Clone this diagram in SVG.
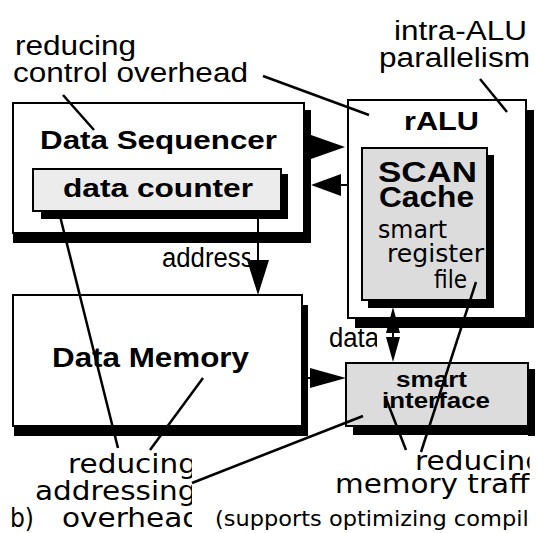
<svg xmlns="http://www.w3.org/2000/svg" width="544" height="533" viewBox="0 0 544 533">
  <style>
    .box { fill: #ffffff; stroke: #000000; stroke-width: 2; }
    .lite { fill: #ececec; stroke: #000000; stroke-width: 2; }
    .gray { fill: #dcdcdc; stroke: #000000; stroke-width: 2; }
    .sh { fill: #000000; }
    .lead { stroke: #000000; stroke-width: 2.5; fill: none; }
    .wire { stroke: #000000; stroke-width: 2; fill: none; }
    .head { fill: #000000; stroke: none; }
    .hb { font-family: "Liberation Sans", Arial, Helvetica, sans-serif; font-weight: bold; fill: #000; }
    .hr { font-family: "Liberation Sans", Arial, Helvetica, sans-serif; font-size: 27px; fill: #000; }
    .gv { font-family: "DejaVu Sans", Verdana, sans-serif; fill: #000; }
  </style>
  <defs>
    <clipPath id="clipLeftNote"><rect x="0" y="430" width="192" height="103"/></clipPath>
    <clipPath id="clipRightNote"><rect x="200" y="440" width="329.5" height="93"/></clipPath>
    <clipPath id="clipAddr"><rect x="150" y="240" width="100" height="35"/></clipPath>
    <clipPath id="clipData"><rect x="320" y="320" width="57" height="35"/></clipPath>
  </defs>

  <rect x="0" y="0" width="544" height="533" fill="#ffffff"/>

  <!-- Data Sequencer with embedded data counter -->
  <g id="data-sequencer">
    <rect class="sh" x="304" y="110" width="7" height="133"/>
    <rect class="sh" x="13" y="233" width="298" height="10"/>
    <rect class="box" x="13" y="103" width="291" height="130"/>
    <text class="hb" x="40" y="149" font-size="26" textLength="237" lengthAdjust="spacingAndGlyphs">Data Sequencer</text>
  </g>
  <g id="data-counter">
    <rect class="sh" x="281" y="174" width="7" height="45"/>
    <rect class="sh" x="41" y="211" width="247" height="8"/>
    <rect class="lite" x="33" y="169" width="248" height="42"/>
    <text class="hb" x="63" y="197" font-size="26" textLength="190" lengthAdjust="spacingAndGlyphs">data counter</text>
  </g>

  <!-- rALU with SCAN Cache -->
  <g id="ralu">
    <rect class="sh" x="526" y="110" width="8" height="218"/>
    <rect class="sh" x="355" y="318" width="179" height="10"/>
    <rect class="box" x="348" y="100" width="178" height="218"/>
    <text class="hb" x="404" y="130" font-size="26" textLength="75" lengthAdjust="spacingAndGlyphs">rALU</text>
  </g>
  <g id="scan-cache">
    <rect class="sh" x="487" y="155" width="7" height="153"/>
    <rect class="sh" x="368" y="300" width="126" height="8"/>
    <rect class="gray" x="362" y="148" width="125" height="152"/>
    <text class="hb" x="378" y="182" font-size="29" textLength="99" lengthAdjust="spacingAndGlyphs">SCAN</text>
    <text class="hb" x="379" y="207" font-size="29" textLength="95" lengthAdjust="spacingAndGlyphs">Cache</text>
    <text class="gv" x="378" y="238" font-size="24" textLength="69" lengthAdjust="spacingAndGlyphs">smart</text>
    <text class="gv" x="387" y="262" font-size="24" textLength="97" lengthAdjust="spacingAndGlyphs">register</text>
    <text class="gv" x="434" y="288" font-size="24" textLength="33" lengthAdjust="spacingAndGlyphs">file</text>
  </g>

  <!-- Data Memory -->
  <g id="data-memory">
    <rect class="sh" x="302" y="305" width="6" height="131"/>
    <rect class="sh" x="14" y="426" width="294" height="10"/>
    <rect class="box" x="13" y="295" width="289" height="131"/>
    <text class="hb" x="52" y="367" font-size="27" textLength="197" lengthAdjust="spacingAndGlyphs">Data Memory</text>
  </g>

  <!-- smart interface -->
  <g id="smart-interface">
    <rect class="sh" x="528" y="369" width="7" height="67"/>
    <rect class="sh" x="353" y="426" width="182" height="9"/>
    <rect class="gray" x="346" y="363" width="182" height="63"/>
    <text class="hb" x="396" y="387" font-size="22" textLength="71" lengthAdjust="spacingAndGlyphs">smart</text>
    <text class="hb" x="382" y="408" font-size="22" textLength="108" lengthAdjust="spacingAndGlyphs">interface</text>
  </g>

  <!-- connectors -->
  <g id="connectors">
    <line class="wire" x1="258" y1="219" x2="258" y2="262"/>
    <polygon class="head" points="247,260 269,260 258,295"/>
    <text class="hr" x="162" y="267" font-size="22" textLength="91.5" lengthAdjust="spacingAndGlyphs" clip-path="url(#clipAddr)">address</text>

    <polygon class="head" points="311,135 345,147 311,159"/>
    <polygon class="head" points="311,185 341,174 341,196"/>
    <line class="wire" x1="340" y1="185" x2="348" y2="185"/>

    <polygon class="head" points="393,307 386,333 400,333"/>
    <line class="wire" x1="393" y1="330" x2="393" y2="340"/>
    <polygon class="head" points="386,337 400,337 393,362"/>
    <text class="hr" x="329" y="347" font-size="22" textLength="50" lengthAdjust="spacingAndGlyphs" clip-path="url(#clipData)">data</text>

    <line class="wire" x1="307" y1="378" x2="312" y2="378"/>
    <polygon class="head" points="310,368 346,378 310,388"/>
  </g>

  <!-- annotation labels -->
  <g id="notes">
    <text class="hr" x="15" y="55" textLength="121" lengthAdjust="spacingAndGlyphs">reducing</text>
    <text class="hr" x="13" y="82" textLength="235" lengthAdjust="spacingAndGlyphs">control overhead</text>
    <text class="hr" x="394" y="40" textLength="133" lengthAdjust="spacingAndGlyphs">intra-ALU</text>
    <text class="hr" x="379" y="67" textLength="151" lengthAdjust="spacingAndGlyphs">parallelism</text>

    <g clip-path="url(#clipLeftNote)">
      <text class="gv" x="68" y="473" font-size="26" textLength="129" lengthAdjust="spacingAndGlyphs">reducing</text>
      <text class="gv" x="35" y="500" font-size="26" textLength="161.5" lengthAdjust="spacingAndGlyphs">addressing</text>
      <text class="gv" x="62" y="527" font-size="26" textLength="139" lengthAdjust="spacingAndGlyphs">overhead</text>
    </g>
    <text class="gv" x="10" y="527" font-size="26" textLength="24" lengthAdjust="spacingAndGlyphs">b)</text>

    <g clip-path="url(#clipRightNote)">
      <text class="gv" x="415" y="470" font-size="26" textLength="129" lengthAdjust="spacingAndGlyphs">reducing</text>
      <text class="gv" x="335" y="493" font-size="26" textLength="218.7" lengthAdjust="spacingAndGlyphs">memory traffic</text>
      <text class="gv" x="215" y="526" font-size="22" textLength="345.5" lengthAdjust="spacingAndGlyphs">(supports optimizing compiler)</text>
    </g>
  </g>

  <!-- leader lines -->
  <g id="leaders">
    <line class="lead" x1="63" y1="95" x2="94" y2="130"/>
    <line class="lead" x1="263" y1="76" x2="369" y2="115"/>
    <line class="lead" x1="480" y1="79" x2="507" y2="112"/>
    <line class="lead" x1="59" y1="212" x2="118" y2="448"/>
    <line class="lead" x1="150" y1="450" x2="203" y2="378"/>
    <line class="lead" x1="192" y1="483" x2="363" y2="416"/>
    <line class="lead" x1="385" y1="396" x2="406" y2="450"/>
    <line class="lead" x1="476" y1="282" x2="421" y2="452"/>
  </g>
</svg>
